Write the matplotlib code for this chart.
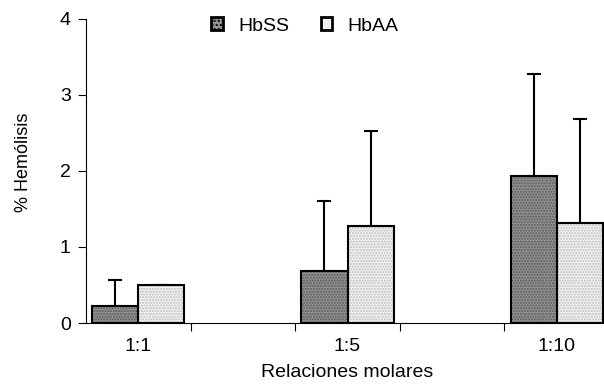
import matplotlib
matplotlib.use('Agg')
import matplotlib.pyplot as plt
import numpy as np
from matplotlib.patches import Patch

plt.rcParams['font.family'] = ['Liberation Sans', 'DejaVu Sans']

# Data
categories = ['1:1', '', '1:5', '', '1:10']
cat_pos = [0, 2, 4]
hbss = [0.23, 0.68, 1.94]
hbss_err = [0.33, 0.93, 1.33]
hbaa = [0.50, 1.28, 1.31]
hbaa_err = [0.0, 1.25, 1.38]
series = ['HbSS', 'HbAA']

dark_face = '#929292'
dark_hatch = '#5a5a5a'
light_face = '#f2f2f2'
light_hatch = '#bdbdbd'

fs = 14

fig = plt.figure(figsize=(6.04, 3.85), dpi=100)
ax = fig.add_axes([86 / 604, 1 - 323 / 385, 523 / 604, 304 / 385])

x = np.array(cat_pos, dtype=float)
w = 0.44

# textured fill first, then black outline on top
ax.bar(x - w / 2, hbss, w, color=dark_face, hatch='......', edgecolor=dark_hatch, linewidth=0, zorder=2)
ax.bar(x + w / 2, hbaa, w, color=light_face, hatch='......', edgecolor=light_hatch, linewidth=0, zorder=2)
ax.bar(x - w / 2, hbss, w, color='none', edgecolor='black', linewidth=1.5, zorder=3)
ax.bar(x + w / 2, hbaa, w, color='none', edgecolor='black', linewidth=1.5, zorder=3)

# upward-only error bars
ax.errorbar(x - w / 2, hbss, yerr=[np.zeros(3), hbss_err], fmt='none', ecolor='black',
            elinewidth=1.5, capsize=4.7, capthick=1.5, zorder=1)
ax.errorbar(x + w / 2, hbaa, yerr=[np.zeros(3), hbaa_err], fmt='none', ecolor='black',
            elinewidth=1.5, capsize=4.7, capthick=1.5, zorder=1)

ax.set_xlim(-0.5, 4.5)
ax.set_ylim(0, 4)
ax.set_yticks([0, 1, 2, 3, 4])
ax.set_xticks(cat_pos)
ax.set_xticklabels([categories[i] for i in cat_pos])
ax.set_xticks(np.arange(0.5, 4.5, 1.0), minor=True)

ax.tick_params(axis='x', which='major', length=0, pad=11, labelsize=fs)
ax.tick_params(axis='x', which='minor', length=6, width=0.8, direction='out')
ax.tick_params(axis='y', length=6, width=0.8, direction='out', pad=5, labelsize=fs)

for s in ['top', 'right']:
    ax.spines[s].set_visible(False)
ax.spines['left'].set_linewidth(0.8)
ax.spines['bottom'].set_linewidth(0.8)

ax.set_xlabel('Relaciones molares', fontsize=fs, labelpad=6)
ax.set_ylabel('% Hemólisis', fontsize=13)
ax.yaxis.set_label_coords(-0.104, 0.53)

handles = [Patch(facecolor=dark_face, edgecolor='black', linewidth=2, hatch='....'),
           Patch(facecolor=light_face, edgecolor='black', linewidth=2)]
fig.legend(handles, series, loc='center', bbox_to_anchor=(305 / 604, 1 - 26 / 385),
           ncol=2, frameon=False, fontsize=fs, handlelength=0.6, handleheight=0.6,
           handletextpad=0.8, columnspacing=1.6)

fig.savefig('out.png', dpi=100)
